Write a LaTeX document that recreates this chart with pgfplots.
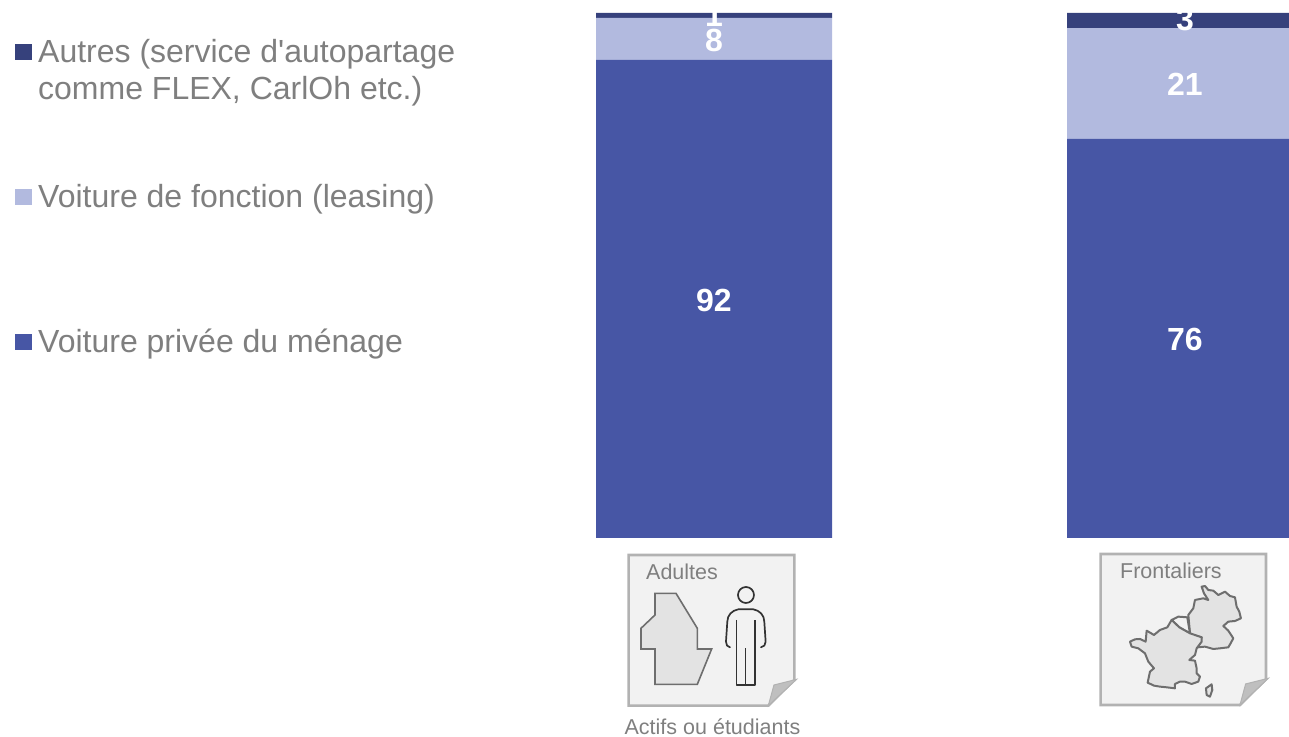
\documentclass[border=0pt]{standalone}
\usepackage{pgfplots}
\pgfplotsset{compat=1.18}
\usepackage{fontspec}
\setmainfont{Liberation Sans}
\newfontfamily\legf{Liberation Sans}
\definecolor{barmain}{HTML}{4756A5}
\definecolor{barlight}{HTML}{B2BADF}
\definecolor{bardark}{HTML}{36417C}
\definecolor{txt}{HTML}{7F7F7F}
\definecolor{pageF}{HTML}{F2F2F2}
\definecolor{pageE}{HTML}{B2B2B2}
\definecolor{foldF}{HTML}{BFBFBF}
\definecolor{mapF}{HTML}{E3E3E3}
\definecolor{mapE}{HTML}{6E6E6E}
\pgfplotstableread{
x v
0 91.05
1 76.0
}\tprive
\pgfplotstableread{
x v
0 8.0
1 21.1
}\tfonction
\pgfplotstableread{
x v
0 0.95
1 2.9
}\tautres
\begin{document}
\begin{tikzpicture}
\begin{axis}[
  at={(0,0)},anchor=south west,
  scale only axis,width=1289pt,height=737pt,
  xmin=-1.51592,xmax=1.22081,
  ymin=-37.905,ymax=102.476,
  axis lines=none,
  ybar stacked,bar width=236pt,
  clip=true,
]
\addplot[fill=barmain,draw=none] table[x=x,y=v]{\tprive};
\addplot[fill=barlight,draw=none] table[x=x,y=v]{\tfonction};
\addplot[fill=bardark,draw=none] table[x=x,y=v]{\tautres};
\end{axis}
\path[use as bounding box] (0,0) rectangle (1289pt,737pt);
\begin{scope}[x=1pt,y=-1pt,yshift=737pt]
  \tikzset{barlab/.style={text=white,font=\fontsize{32}{32}\selectfont\bfseries,anchor=center,inner sep=0pt}}
  \node[barlab] at (714,300) {92};
  \node[barlab] at (714,40) {8};
  \node[barlab] at (714,15) {1};
  \node[barlab] at (1185,339) {76};
  \node[barlab] at (1185,84) {21};
  \node[barlab] at (1185,20) {3};
  \fill[bardark] (15,44) rectangle (32,60);
  \fill[barlight] (15,189) rectangle (32,205);
  \fill[barmain] (15,334) rectangle (32,350);
  \tikzset{leg/.style={text=txt,font=\legf\fontsize{32}{37}\selectfont,anchor=base west,inner sep=0pt,align=left}}
  \node[leg] at (38,63) {Autres (service d'autopartage};
  \node[leg] at (38,100) {comme FLEX, CarlOh etc.)};
  \node[leg] at (38,208) {Voiture de fonction (leasing)};
  \node[leg] at (38,353) {Voiture privée du ménage};
  \node[text=txt,font=\fontsize{21.5}{21.5}\selectfont,anchor=base,inner sep=0pt] at (712.5,734.5) {Actifs ou étudiants};
\end{scope}
% icon 1, in zoom coordinates
\begin{scope}[shift={(600pt,197pt)},x=0.3333pt,y=-0.3333pt]
  \draw[fill=pageF,draw=pageE,line width=2.6pt,line join=miter] (86,45)--(583,45)--(583,420)--(505,497)--(86,497)--cycle;
  \fill[foldF,draw=pageE,line width=1pt] (590,418)--(522,435)--(505,497)--cycle;
  \node[text=txt,font=\fontsize{21.5}{21.5}\selectfont,anchor=base west,inner sep=0pt] at (138,118) {Adultes};
  \draw[fill=mapF,draw=mapE,line width=1.6pt] (165,160)--(228,160)--(292,265)--(292,327)--(335,327)--(292,433)--(165,433)--(165,327)--(123,327)--(123,265)--(165,225)--cycle;
  \draw[black!80,line width=1.7pt] (438,165) circle (24);
  \draw[black!80,line width=1.7pt,line cap=round,line join=round]
    (390,322) to[out=180,in=-90] (378,305) -- (382,245) to[out=90,in=190] (415,208) -- (460,208) to[out=-10,in=90] (493,245) -- (497,305) to[out=-90,in=0] (483,322);
  \draw[black!80,line width=1.7pt,line join=round] (410,240)--(410,435)--(466,435)--(466,240);
  \draw[black!80,line width=1.7pt] (437,325)--(437,435);
\end{scope}
% icon 2
\begin{scope}[shift={(1080pt,197pt)},x=0.3333pt,y=-0.3333pt]
  \draw[fill=pageF,draw=pageE,line width=2.6pt] (62,42)--(558,42)--(558,418)--(480,495)--(62,495)--cycle;
  \fill[foldF,draw=pageE,line width=1pt] (565,415)--(497,432)--(480,495)--cycle;
  \node[text=txt,font=\fontsize{21.5}{21.5}\selectfont,anchor=base west,inner sep=0pt] at (120,115) {Frontaliers};
  \draw[fill=mapF,draw=mapE,line width=2pt,line join=round]
    (365,140)--(375,138)--(385,150)--(400,152)--(415,165)--(435,155)--(450,168)--(465,172)--(470,200)--(478,215)--(483,235)--(465,243)--(445,245)--(430,258)--(445,272)--(460,295)--(452,310)--(445,322)--(420,325)--(400,327)--(375,320)--(355,322)--(365,292)--(340,285)--(330,280)--(325,225)--(340,205)--(345,180)--(370,175)--(385,180)--(372,160)--cycle;
  \draw[fill=pageF,draw=mapE,line width=2pt,line join=round] (275,240)--(295,230)--(322,232)--(330,280)--(298,262)--cycle;
  \draw[fill=mapF,draw=mapE,line width=2pt,line join=round]
    (150,305)--(165,298)--(180,297)--(197,305)--(200,272)--(222,285)--(240,270)--(262,262)--(275,240)--(298,262)--(330,280)--(365,292)--(365,305)--(350,325)--(345,345)--(328,360)--(345,362)--(350,385)--(350,400)--(360,410)--(355,425)--(335,432)--(315,425)--(300,425)--(285,432)--(285,445)--(260,442)--(240,440)--(222,437)--(203,428)--(210,395)--(222,385)--(205,365)--(195,340)--(175,325)--(155,320)--cycle;
  \draw[fill=mapF,draw=mapE,line width=2pt,line join=round] (378,445)--(395,433)--(397,450)--(390,470)--(380,465)--cycle;
\end{scope}
\end{tikzpicture}
\end{document}
